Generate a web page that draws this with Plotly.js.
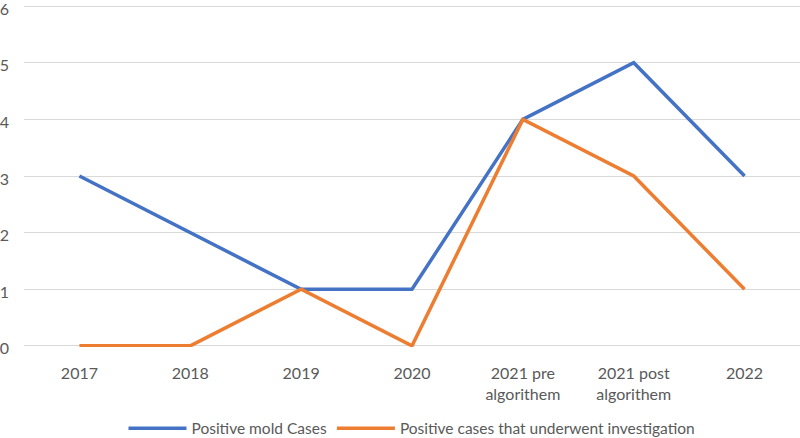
<!DOCTYPE html>
<html>
<head>
<meta charset="utf-8">
<script src="https://cdn.plot.ly/plotly-3.0.1.min.js"></script>
<style>html,body{margin:0;padding:0;background:#fff;}#chart{width:800px;height:438px;}</style>
</head>
<body>
<div id="chart"></div>
<script>
const categories = ["2017", "2018", "2019", "2020", "2021 pre<br>algorithem", "2021 post<br>algorithem", "2022"];
const positiveMold = [3, 2, 1, 1, 4, 5, 3];
const investigated = [0, 0, 1, 0, 4, 3, 1];
const seriesNames = ["Positive mold Cases", "Positive cases that underwent investigation"];

const data = [
  {x: categories, y: positiveMold, name: seriesNames[0], type: "scatter", mode: "lines",
   line: {color: "#4472C4", width: 3.5}},
  {x: categories, y: investigated, name: seriesNames[1], type: "scatter", mode: "lines",
   line: {color: "#ED7D31", width: 3.5}}
];

const layout = {
  width: 800, height: 438,
  margin: {l: 24, r: 0, t: 5, b: 91, autoexpand: false},
  paper_bgcolor: "#fff", plot_bgcolor: "#fff",
  font: {family: "Lato, 'Open Sans', sans-serif", size: 16, color: "#595959"},
  showlegend: true,
  legend: {orientation: "h", x: 0.5, xanchor: "center", y: -0.239, yanchor: "middle",
           font: {size: 15.5, color: "#595959"}, itemwidth: 58},
  xaxis: {type: "category", range: [-0.5, 6.5], showgrid: false, showline: false, zeroline: false,
          ticks: "", ticklabelstandoff: 15, tickfont: {size: 16, color: "#595959"}, fixedrange: true},
  yaxis: {range: [-0.02, 6.02], tickvals: [0, 1, 2, 3, 4, 5, 6], showgrid: true, gridcolor: "#d9d9d9", gridwidth: 1,
          zeroline: false, showline: false, ticks: "", ticklabelstandoff: 14, ticklabelshift: 3,
          ticklabeloverflow: "allow", tickfont: {size: 16, color: "#595959"}, fixedrange: true}
};

Plotly.newPlot("chart", data, layout, {displayModeBar: false, staticPlot: true});
</script>
</body>
</html>
